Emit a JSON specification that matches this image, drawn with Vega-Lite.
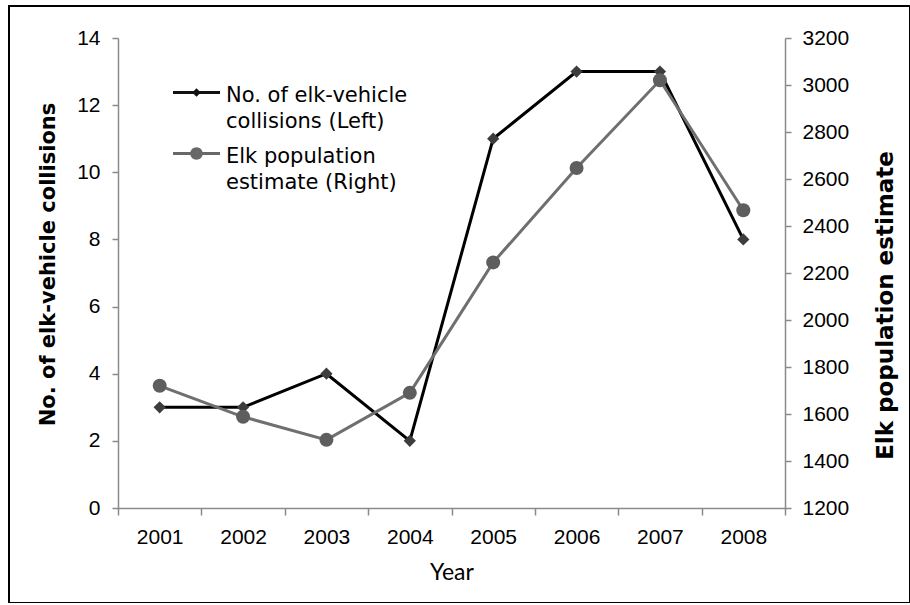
{
  "$schema": "https://vega.github.io/schema/vega-lite/v6.json",
  "width": 901,
  "height": 597,
  "padding": {"left": 9, "top": 6, "right": 0, "bottom": 0},
  "background": "white",
  "config": {
    "view": {"stroke": "black", "strokeWidth": 2, "fill": "white"},
    "axis": {
      "domainColor": "#8a8a8a",
      "tickColor": "#8a8a8a",
      "domainWidth": 1.5,
      "tickWidth": 1.5,
      "grid": false,
      "labelFont": "Liberation Sans",
      "labelFontSize": 21,
      "labelColor": "black",
      "titleColor": "black"
    },
    "legend": {
      "title": null,
      "symbolSize": 100,
      "symbolOpacity": 1,
      "symbolStrokeWidth": 0,
      "labelFont": "DejaVu Sans",
      "labelFontSize": 21,
      "labelColor": "black",
      "labelOffset": 19,
      "labelLimit": 0,
      "rowPadding": 11,
      "padding": 0,
      "labelBaseline": "top"
    }
  },
  "data": {
    "values": [
      {"year": "2001", "collisions": 3, "elk": 1720},
      {"year": "2002", "collisions": 3, "elk": 1588},
      {"year": "2003", "collisions": 4, "elk": 1490},
      {"year": "2004", "collisions": 2, "elk": 1690},
      {"year": "2005", "collisions": 11, "elk": 2245},
      {"year": "2006", "collisions": 13, "elk": 2647},
      {"year": "2007", "collisions": 13, "elk": 3020},
      {"year": "2008", "collisions": 8, "elk": 2467}
    ]
  },
  "encoding": {
    "x": {
      "field": "year",
      "type": "ordinal",
      "bandPosition": 0.5,
      "scale": {"type": "band", "range": [109, 776], "paddingInner": 0, "paddingOuter": 0},
      "axis": {
        "title": "Year",
        "titleFont": "Lato",
        "titleFontSize": 23,
        "titleFontWeight": "normal",
        "labelAngle": 0,
        "tickBand": "extent",
        "offset": -95,
        "tickSize": 7,
        "labelPadding": 11,
        "titlePadding": 14
      }
    }
  },
  "layer": [
    {
      "encoding": {
        "y": {
          "field": "collisions",
          "type": "quantitative",
          "scale": {"domain": [0, 14], "range": [502, 32], "nice": false, "zero": false},
          "axis": {
            "orient": "left",
            "values": [0, 2, 4, 6, 8, 10, 12, 14],
            "offset": -109,
            "tickSize": 6,
            "labelPadding": 12,
            "title": "No. of elk-vehicle collisions",
            "titleFont": "DejaVu Sans",
            "titleFontSize": 21,
            "titleFontWeight": "bold",
            "titlePadding": 18,
            "titleY": 258
          }
        }
      },
      "layer": [
        {"mark": {"type": "line", "color": "#000000", "strokeWidth": 3}},
        {"mark": {"type": "point", "shape": "diamond", "filled": true, "size": 150, "color": "#3d3d3d", "opacity": 1}},
        {
          "mark": {"type": "point", "filled": true, "opacity": 0},
          "encoding": {
            "shape": {
              "datum": "collisions",
              "scale": {
                "domain": ["collisions", "elk"],
                "range": [
                  "M-4.7,-0.3H4.7V0.3H-4.7Z M0,-0.85L0.85,0L0,0.85L-0.85,0Z",
                  "M-4.7,-0.3H4.7V0.3H-4.7Z M-1.25,0A1.25,1.25 0 1,1 1.25,0A1.25,1.25 0 1,1 -1.25,0Z"
                ]
              },
              "legend": {
                "orient": "none",
                "legendX": 177,
                "legendY": 76,
                "labelExpr": "datum.value == 'collisions' ? ['No. of elk-vehicle', 'collisions (Left)'] : ['Elk population', 'estimate (Right)']",
                "encode": {"labels": {"update": {"lineHeight": {"value": 26}, "dy": {"value": -8}}}}
              }
            },
            "color": {
              "datum": "collisions",
              "scale": {"domain": ["collisions", "elk"], "range": ["#111111", "#686868"]},
              "legend": {
                "orient": "none",
                "legendX": 177,
                "legendY": 76,
                "labelExpr": "datum.value == 'collisions' ? ['No. of elk-vehicle', 'collisions (Left)'] : ['Elk population', 'estimate (Right)']",
                "encode": {"labels": {"update": {"lineHeight": {"value": 26}, "dy": {"value": -8}}}}
              }
            }
          }
        }
      ]
    },
    {
      "encoding": {
        "y": {
          "field": "elk",
          "type": "quantitative",
          "scale": {"domain": [1200, 3200], "range": [502, 32], "nice": false, "zero": false},
          "axis": {
            "orient": "right",
            "values": [1200, 1400, 1600, 1800, 2000, 2200, 2400, 2600, 2800, 3000, 3200],
            "format": "d",
            "offset": -125,
            "tickSize": 6,
            "labelPadding": 11,
            "title": "Elk population estimate",
            "titleFont": "DejaVu Sans",
            "titleFontSize": 23,
            "titleFontWeight": "bold",
            "titleAngle": 270,
            "titleBaseline": "top",
            "titlePadding": 26,
            "titleY": 299
          }
        }
      },
      "layer": [
        {"mark": {"type": "line", "color": "#6f6f6f", "strokeWidth": 3}},
        {"mark": {"type": "point", "shape": "circle", "filled": true, "size": 196, "color": "#5e5e5e", "opacity": 1}}
      ]
    }
  ],
  "resolve": {"scale": {"y": "independent"}}
}
